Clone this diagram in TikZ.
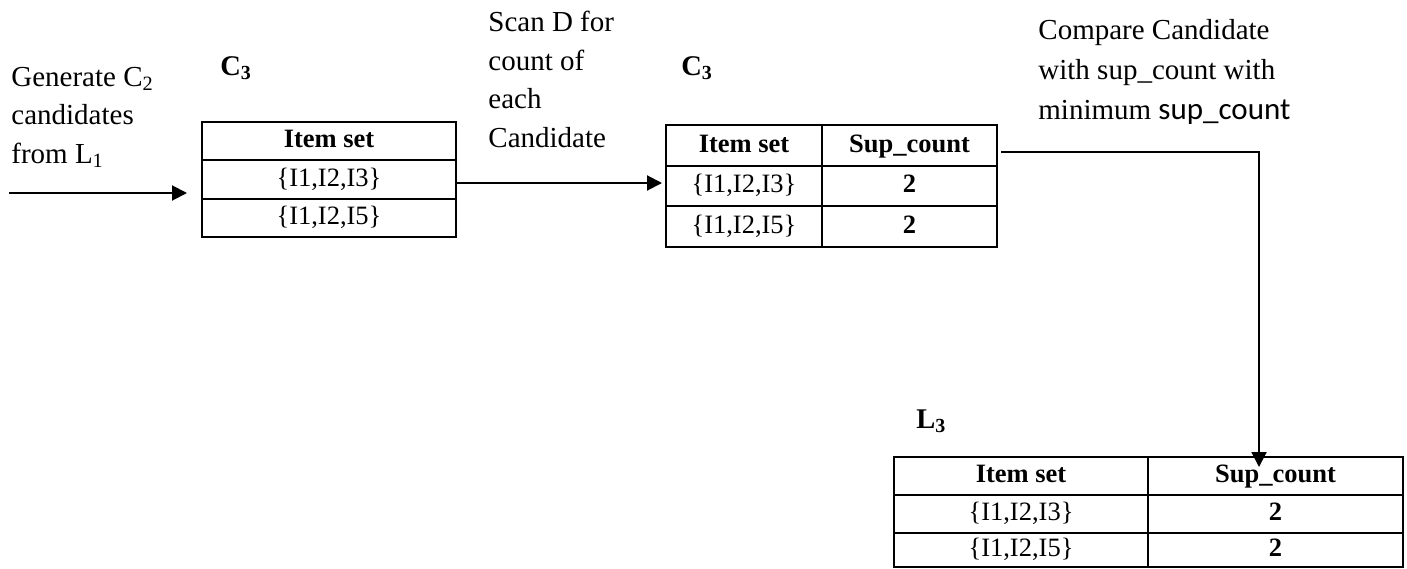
\documentclass[tikz,border=0pt]{standalone}
\usepackage{fontspec}
\setmainfont{Liberation Serif}
\newfontfamily\calib{Carlito}
\usetikzlibrary{arrows.meta}
\begin{document}
\begin{tikzpicture}[x=0.5pt,y=-0.5pt,
  cell/.style={draw,line width=1pt,inner sep=0pt,text height=9.5pt,text depth=3pt,font=\fontsize{13.25pt}{15pt}\selectfont},
  hdr/.style={cell,font=\fontsize{13.25pt}{15pt}\selectfont\bfseries},
  lbl/.style={inner sep=0pt,anchor=base west,align=left,font=\fontsize{14.5pt}{19.25pt}\selectfont},
  ttl/.style={inner sep=0pt,anchor=base west,font=\fontsize{14.25pt}{16pt}\selectfont\bfseries},
  arr/.style={line width=1pt,-{Triangle[length=7.5pt,width=7.5pt]}}
]
\useasboundingbox (0,0) rectangle (1407,568);

% table 1
\node[hdr,minimum width=127pt,minimum height=19pt] (t1h) at (329,141) {Item set};
\node[cell,minimum width=127pt,minimum height=19.5pt] (t1r1) at (329,179.5) {\{I1,I2,I3\}};
\node[cell,minimum width=127pt,minimum height=19pt] (t1r2) at (329,218) {\{I1,I2,I5\}};

% table 2
\node[hdr,minimum width=78pt,minimum height=20.5pt] (t2h1) at (744,145.5) {Item set};
\node[hdr,minimum width=87.5pt,minimum height=20.5pt] (t2h2) at (909.5,145.5) {Sup\_count};
\node[cell,minimum width=78pt,minimum height=20pt] (t2a1) at (744,186) {\{I1,I2,I3\}};
\node[hdr,minimum width=87.5pt,minimum height=20pt] (t2a2) at (909.5,186) {2};
\node[cell,minimum width=78pt,minimum height=20.5pt] (t2b1) at (744,226.5) {\{I1,I2,I5\}};
\node[hdr,minimum width=87.5pt,minimum height=20.5pt] (t2b2) at (909.5,226.5) {2};

% table L3
\node[hdr,minimum width=127pt,minimum height=19pt] (l3h1) at (1021,476) {Item set};
\node[hdr,minimum width=127.5pt,minimum height=19pt] (l3h2) at (1275.5,476) {Sup\_count};
\node[cell,minimum width=127pt,minimum height=19pt] (l3a1) at (1021,514) {\{I1,I2,I3\}};
\node[hdr,minimum width=127.5pt,minimum height=19pt] (l3a2) at (1275.5,514) {2};
\node[cell,minimum width=127pt,minimum height=16.75pt] (l3b1) at (1021,549.75) {\{I1,I2,I5\}};
\node[hdr,minimum width=127.5pt,minimum height=16.75pt] (l3b2) at (1275.5,549.75) {2};

% labels (base anchor = baseline of the last line)
\node[lbl] (gen) at (11,163) {Generate C\textsubscript{2}\\candidates\\from L\textsubscript{1}};
\node[lbl] (scan) at (488,147) {Scan D for\\count of\\each\\Candidate};
\node[lbl,font=\fontsize{14.5pt}{20pt}\selectfont] (cmp) at (1038,119) {Compare Candidate\\with sup\_count with\\minimum {\calib\fontsize{15.5pt}{20pt}\selectfont sup\_count}};
\node[ttl] (c3a) at (220,75) {C\textsubscript{3}};
\node[ttl] (c3b) at (681,75) {C\textsubscript{3}};
\node[ttl] (l3) at (916,428) {L\textsubscript{3}};

% connectors
\coordinate (a1s) at (9,193);
\draw[arr,shorten >=7pt] (a1s) -- (a1s -| t1r1.west);
\coordinate (a2s) at ([yshift=-1.75pt]t1r1.east);
\draw[arr,shorten >=1.5pt] (a2s) -- (a2s -| t2a1.west);
\coordinate (a3s) at ([xshift=1.5pt,yshift=-3.25pt]t2h2.east);
\coordinate (a3e) at ([xshift=-8.25pt,yshift=-5.5pt]l3h2.north);
\draw[arr] (a3s) -| (a3e);
\end{tikzpicture}
\end{document}
